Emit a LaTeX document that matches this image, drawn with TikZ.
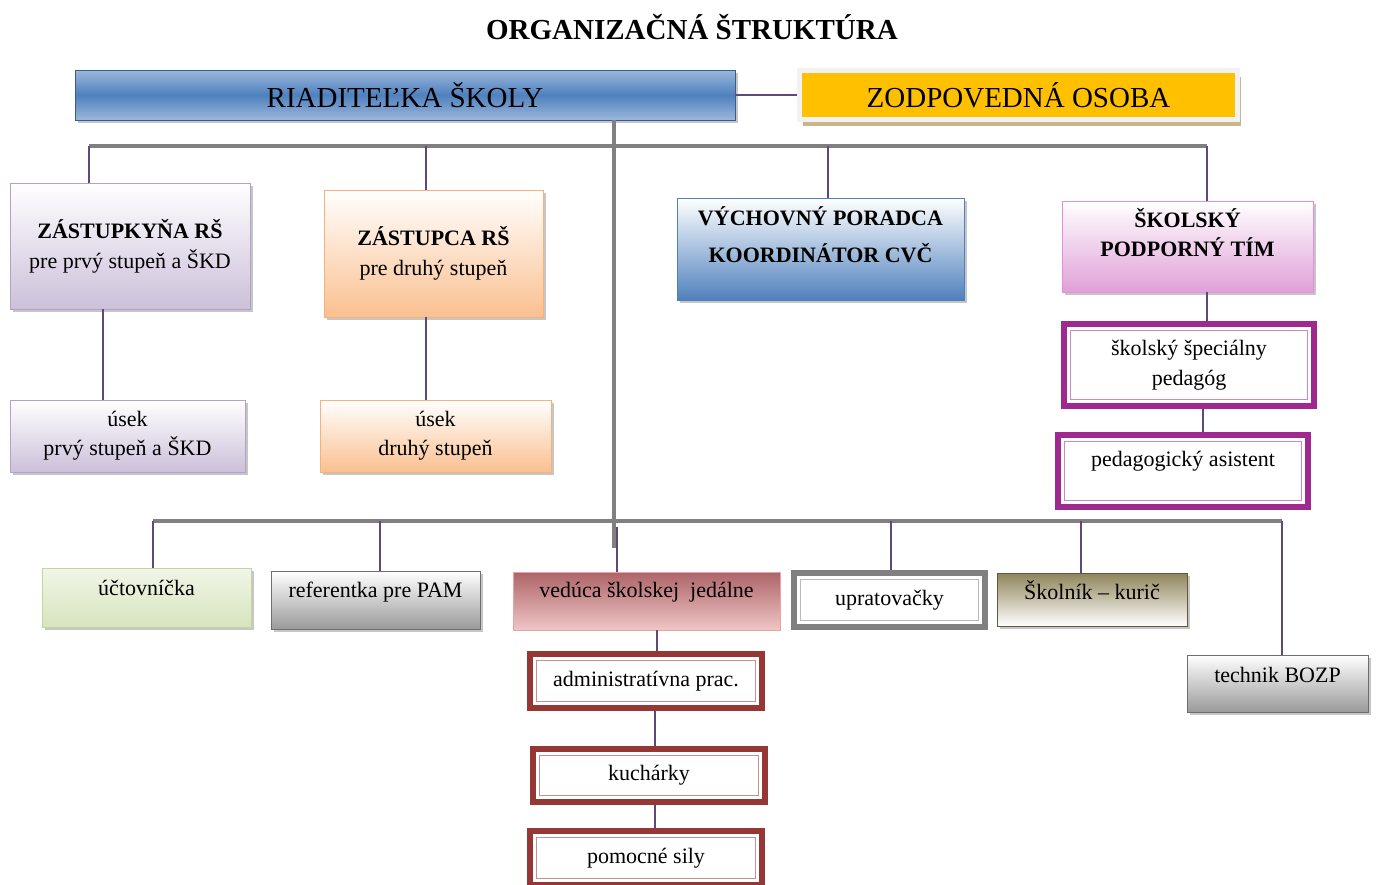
\documentclass[tikz,border=0pt]{standalone}
\usepackage{fontspec}
\setmainfont{Liberation Serif}
\usetikzlibrary{shadows}
\definecolor{busgray}{HTML}{808080}
\definecolor{linkpur}{HTML}{5F497A}
\definecolor{riadtop}{HTML}{9BB7DC}
\definecolor{riadmid}{HTML}{4F81BD}
\definecolor{riadline}{HTML}{385D8A}
\definecolor{zodpfill}{HTML}{FFC000}
\definecolor{zodpline}{HTML}{F2F2F2}
\definecolor{zodpsh}{HTML}{C7B68C}
\definecolor{lav}{HTML}{CCC0DA}
\definecolor{lavline}{HTML}{B3A2C7}
\definecolor{ora}{HTML}{FAC090}
\definecolor{oraline}{HTML}{F7B27A}
\definecolor{spt}{HTML}{E0A0D8}
\definecolor{sptline}{HTML}{E58EE0}
\definecolor{sptdbl}{HTML}{A0298F}
\definecolor{grn}{HTML}{D7E4BD}
\definecolor{grnline}{HTML}{C3D69B}
\definecolor{gry}{HTML}{9A9A9A}
\definecolor{gryline}{HTML}{6E6E6E}
\definecolor{jedtop}{HTML}{AD6468}
\definecolor{jedbot}{HTML}{F0C6C6}
\definecolor{jedline}{HTML}{E6A5A5}
\definecolor{jeddbl}{HTML}{953735}
\definecolor{olv}{HTML}{8F845A}
\definecolor{olvline}{HTML}{5E5A3E}
\begin{document}
\begin{tikzpicture}
[x=0.5pt,y=-0.5pt,%
  box/.style={rectangle,align=center,inner sep=3pt,font=\fontsize{11}{13}\selectfont},%
  big/.style={font=\fontsize{14.5}{17}\selectfont},%
  sh/.style={drop shadow={shadow xshift=1.5pt,shadow yshift=-1.5pt,opacity=.45}},%
  lift/.style={text height=8pt,text depth=#1},%
  dbl/.style={draw=#1,line width=3pt,fill=white,%
    path picture={\draw[#1!55,line width=.8pt]
      ([shift={(3.2pt,-3.2pt)}]path picture bounding box.north west) rectangle
      ([shift={(-3.2pt,3.2pt)}]path picture bounding box.south east);}},%
  lavbox/.style={box,sh,draw=lavline,top color=white,bottom color=lav},%
  orabox/.style={box,sh,draw=oraline,top color=white,bottom color=ora},%
  grybox/.style={box,sh,draw=gryline,top color=white,bottom color=gry},%
  bus/.style={draw=busgray,line width=2.2pt},%
  link/.style={draw=linkpur,line width=1.3pt}]
\useasboundingbox (0,0) rectangle (1376,884);
\node[font=\fontsize{14.5}{17}\bfseries\selectfont] (title) at (692,27) {ORGANIZAČNÁ ŠTRUKTÚRA};
% vedenie
\node[box,big,sh,draw=riadline,top color=riadtop,bottom color=riadtop,middle color=riadmid,
  minimum width=330pt,minimum height=25pt] (riad) at (405,95) {RIADITEĽKA ŠKOLY};
\node[box,big,draw=zodpline,line width=2.5pt,fill=zodpfill,
  drop shadow={shadow xshift=1.5pt,shadow yshift=-3pt,fill=zodpsh,opacity=1},
  minimum width=219pt,minimum height=24.5pt] (zodp) at (1018.5,95) {ZODPOVEDNÁ OSOBA};
\node[lavbox,minimum width=120pt,minimum height=63pt] (zast1) at (130,246)
  {\textbf{ZÁSTUPKYŇA RŠ}\\[2pt]pre prvý stupeň a ŠKD};
\node[orabox,minimum width=109.5pt,minimum height=63.5pt] (zast2) at (433.5,253.5)
  {\textbf{ZÁSTUPCA RŠ}\\[2pt]pre druhý stupeň};
\node[box,sh,draw=riadmid,top color=white,bottom color=riadmid,text depth=14pt,
  minimum width=143.5pt,minimum height=51pt] (vych) at (820.5,249)
  {\textbf{VÝCHOVNÝ PORADCA}\\[5.5pt]\textbf{KOORDINÁTOR CVČ}};
\node[box,sh,draw=sptline,top color=white,bottom color=spt,text depth=14pt,
  minimum width=125.5pt,minimum height=45.5pt] (skol) at (1187.5,246.5)
  {\textbf{ŠKOLSKÝ}\\[1.5pt]\textbf{PODPORNÝ TÍM}};
\node[box,dbl=sptdbl,minimum width=125pt,minimum height=41pt] (ssp) at (1189,365)
  {školský špeciálny\\[2pt]pedagóg};
\node[box,dbl=sptdbl,lift=13pt,minimum width=125pt,minimum height=36pt] (pasist) at (1183,471)
  {pedagogický asistent};
\node[lavbox,minimum width=117.5pt,minimum height=36pt] (usek1) at (127.5,436)
  {úsek\\[1.5pt]prvý stupeň a ŠKD};
\node[orabox,minimum width=115.5pt,minimum height=36pt] (usek2) at (435.5,436)
  {úsek\\[1.5pt]druhý stupeň};
% prevadzka
\node[box,sh,draw=grnline,top color=grn!35,bottom color=grn,lift=10.5pt,
  minimum width=104.5pt,minimum height=29.5pt] (uct) at (146.5,597.5) {účtovníčka};
\node[grybox,lift=11pt,minimum width=104.5pt,minimum height=29pt] (ref) at (375.5,600)
  {referentka pre PAM};
\node[box,draw=jedline,top color=jedtop,bottom color=jedbot,lift=12pt,
  minimum width=133.5pt,minimum height=29pt] (vedu) at (646.5,601) {vedúca školskej~ jedálne};
\node[box,dbl=jeddbl,minimum width=116pt,minimum height=27pt] (admin) at (646,681)
  {administratívna prac.};
\node[box,dbl=jeddbl,minimum width=116pt,minimum height=26.5pt] (kuch) at (649,775.5) {kuchárky};
\node[box,dbl=jeddbl,minimum width=116pt,minimum height=27pt] (pom) at (646,858) {pomocné sily};
\node[box,dbl=busgray,minimum width=95.5pt,minimum height=27pt] (uprat) at (889.5,600) {upratovačky};
\node[box,sh,draw=olvline,top color=olv,bottom color=white,lift=8pt,
  minimum width=95pt,minimum height=26.5pt] (skoln) at (1092,599.5) {Školník – kurič};
\node[grybox,lift=9.5pt,minimum width=90.5pt,minimum height=28.5pt] (tech) at (1277.5,683.5)
  {technik BOZP};
% spoje
\coordinate (u1) at (89,146);
\coordinate (u2) at (426,146);
\coordinate (u3) at (828,146);
\coordinate (u4) at (1207,146);
\coordinate (l1) at (153,521);
\coordinate (l2) at (380,521);
\coordinate (l3) at (617,521);
\coordinate (l4) at (891,521);
\coordinate (l5) at (1081,521);
\coordinate (l6) at (1282,521);
\coordinate (tr) at (614,548);
\coordinate (v1) at (103,0);
\coordinate (v2) at (1203,0);
\coordinate (v3) at (657,0);
\coordinate (v4) at (655,0);
\draw[link] (riad.east) -- (zodp.west);
\draw[bus] (u1) -- (u4);
\draw[bus] (l1) -- (l6);
\draw[bus] (riad.south -| tr) -- (tr);
\draw[link] (u1) -- (u1 |- zast1.north);
\draw[link] (u2) -- (u2 |- zast2.north);
\draw[link] (u3) -- (u3 |- vych.north);
\draw[link] (u4) -- (u4 |- skol.north);
\draw[link] (zast1.south -| v1) -- (usek1.north -| v1);
\draw[link] (zast2.south -| u2) -- (usek2.north -| u2);
\draw[link] (skol.south -| u4) -- (ssp.north -| u4);
\draw[link] (ssp.south -| v2) -- (pasist.north -| v2);
\draw[link] (l1) -- (l1 |- uct.north);
\draw[link] (l2) -- (l2 |- ref.north);
\draw[link] ([yshift=-3pt]l3) -- (l3 |- vedu.north);
\draw[link] (l4) -- (l4 |- uprat.north);
\draw[link] (l5) -- (l5 |- skoln.north);
\draw[link] (l6) -- (l6 |- tech.north);
\draw[link] (vedu.south -| v3) -- (admin.north -| v3);
\draw[link] (admin.south -| v4) -- (kuch.north -| v4);
\draw[link] (kuch.south -| v4) -- (pom.north -| v4);
\end{tikzpicture}
\end{document}
